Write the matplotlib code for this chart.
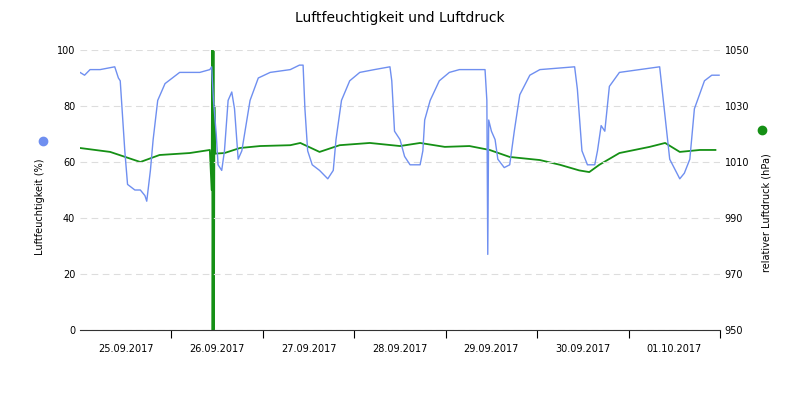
import matplotlib
matplotlib.use("Agg")
import matplotlib.pyplot as plt
import numpy as np

# humidity: (days since 25.09.2017 00:00, %)
hum_pairs = [(0,92),(.05,91),(.11,93),(.22,93),(.38,94),(.42,90),(.44,89),(.46,79),(.49,64),(.52,52),(.60,50),(.66,50),(.71,48),(.73,46),(.77,57),(.80,68),(.85,82),(.93,88),(1.01,90),(1.09,92),(1.31,92),(1.42,93),(1.44,94),(1.46,82),(1.49,70),(1.51,59),(1.55,57),(1.58,64),(1.62,82),(1.66,85),(1.69,79),(1.73,61),(1.77,64),(1.86,82),(1.95,90),(2.08,92),(2.30,93),(2.40,94.6),(2.44,94.6),(2.46,79),(2.49,64),(2.54,59),(2.62,57),(2.71,54),(2.77,57),(2.80,68),(2.86,82),(2.95,89),(3.06,92),(3.22,93),(3.39,94),(3.41,89),(3.44,71),(3.50,68),(3.55,62),(3.61,59),(3.72,59),(3.75,64),(3.77,75),(3.83,82),(3.93,89),(4.04,92),(4.15,93),(4.37,93),(4.43,93),(4.45,82),(4.46,27),(4.47,75),(4.50,71),(4.54,68),(4.57,61),(4.64,58),(4.70,59),(4.75,71),(4.81,84),(4.92,91),(5.03,93),(5.41,94),(5.44,86),(5.49,64),(5.55,59),(5.63,59),(5.66,64),(5.70,73),(5.74,71),(5.79,87),(5.90,92),(6.12,93),(6.34,94),(6.39,79),(6.45,61),(6.56,54),(6.61,56),(6.67,61),(6.72,79),(6.83,89),(6.91,91),(6.99,91)]
hum_t = [p[0] for p in hum_pairs]
hum_v = [p[1] for p in hum_pairs]
pres_t = [0.0,0.33,0.66,0.87,1.20,1.42,1.44,1.445,1.45,1.46,1.465,1.47,1.48,1.58,1.75,1.97,2.30,2.41,2.62,2.84,3.17,3.50,3.72,3.99,4.26,4.48,4.70,5.03,5.25,5.46,5.57,5.68,5.90,6.23,6.40,6.56,6.78,6.95]
pres_v = [1015,1013.6,1010,1012.5,1013.2,1014.3,1000,1050,950,1050,950,1030,1013,1013.2,1015,1015.7,1016,1016.8,1013.6,1016,1016.8,1015.7,1016.8,1015.4,1015.7,1014.3,1011.8,1010.7,1009,1007,1006.4,1009,1013.2,1015.4,1016.8,1013.6,1014.3,1014.3]
day_labels = ["25.09.2017","26.09.2017","27.09.2017","28.09.2017","29.09.2017","30.09.2017","01.10.2017"]

fig = plt.figure(figsize=(8,4), dpi=100)
ax = fig.add_axes([0.1, 0.175, 0.8, 0.7])
ax2 = ax.twinx()
ax.plot(hum_t, hum_v, color="#6f8ff0", lw=1, zorder=3)
ax2.plot(pres_t, pres_v, color="#159015", lw=1.3)
ax.set_zorder(2); ax.patch.set_visible(False)
ax.set_xlim(0, 7.0)
ax.set_ylim(0, 100); ax2.set_ylim(950, 1050)
ax.set_yticks(range(0,101,20)); ax2.set_yticks(range(950,1051,20))
ax.set_xticks(range(1,8)); ax.set_xticklabels([])
ax.set_xticks(np.arange(0.5,7,1), minor=True)
ax.set_xticklabels(day_labels, minor=True)
ax.tick_params(axis="x", which="minor", length=0, pad=10, labelsize=7)
ax.tick_params(axis="x", which="major", length=6)
ax.tick_params(axis="y", labelsize=7, length=0)
ax2.tick_params(axis="y", labelsize=7, length=0)
ax.grid(axis="y", ls=(0,(6,4)), color="#dddddd", lw=0.8)
for s in ["top","right","left"]:
    ax.spines[s].set_visible(False); ax2.spines[s].set_visible(False)
ax2.spines["bottom"].set_visible(False)
ax.spines["bottom"].set_color("#333333")
ax.set_ylabel("Luftfeuchtigkeit (%)", fontsize=7)
ax.yaxis.set_label_coords(-0.055, 0.44)
ax2.set_ylabel("relativer Luftdruck (hPa)", fontsize=7)
ax2.yaxis.set_label_coords(1.065, 0.42)
fig.text(0.5, 0.955, "Luftfeuchtigkeit und Luftdruck", ha="center", va="center", fontsize=10)
fig.add_artist(plt.Line2D([0.054],[0.648], marker="o", color="#6f8ff0", ms=6, transform=fig.transFigure))
fig.add_artist(plt.Line2D([0.952],[0.675], marker="o", color="#159015", ms=6, transform=fig.transFigure))
fig.savefig("out.png", dpi=100)
